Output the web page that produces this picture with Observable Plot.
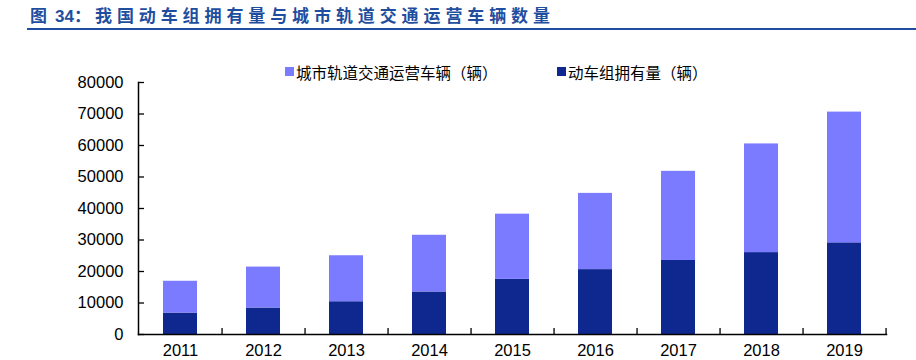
<!DOCTYPE html>
<html>
<head>
<meta charset="utf-8">
<script src="https://cdn.jsdelivr.net/npm/d3@7"></script>
<script src="https://cdn.jsdelivr.net/npm/@observablehq/plot@0.6"></script>
<style>
  html, body { margin: 0; padding: 0; background: #fff; }
  #wrap { position: relative; width: 916px; height: 360px; overflow: hidden; }
  #chart { position: absolute; left: 0; top: 0; }
  .title { position: absolute; top: 5px; line-height: 20px; font-size: 17px; font-weight: bold; color: #1F4E9E; font-family: "Noto Sans CJK SC", sans-serif; white-space: nowrap; }
  .num { font-family: "Liberation Sans", Arial, sans-serif; }
  #rule { position: absolute; left: 27px; right: 0; top: 28px; height: 2px; background: #1F4E9E; }
  .leg { position: absolute; top: 62px; line-height: 20px; font-size: 15.5px; color: #000; font-family: "Noto Sans CJK SC", sans-serif; white-space: nowrap; }
  .sw { position: absolute; width: 9px; height: 9px; top: 67px; }
</style>
</head>
<body>
<div id="wrap">
  <div id="chart"></div>
  <div class="title" style="left:30px">图</div>
  <div class="title num" style="left:55px">34<span style="font-family:'Noto Sans CJK SC'">：</span></div>
  <div class="title" id="titleRest" style="left:95px; letter-spacing:4.9px"></div>
  <div id="rule"></div>
  <div id="legend"></div>
</div>
<script>
const years = ["2011", "2012", "2013", "2014", "2015", "2016", "2017", "2018", "2019"];
const emuCars = [6800, 8400, 10400, 13500, 17500, 20600, 23500, 26000, 29100];
const metroCars = [10100, 13000, 14600, 18000, 20700, 24200, 28300, 34500, 41500];
const seriesNames = ["动车组拥有量（辆）", "城市轨道交通运营车辆（辆）"];
const seriesColors = ["#0F2890", "#7B7BFF"];
const yTicks = [0, 10000, 20000, 30000, 40000, 50000, 60000, 70000, 80000];
const titleText = "我国动车组拥有量与城市轨道交通运营车辆数量";

document.getElementById("titleRest").textContent = titleText;

// legend (order as in reference: metro first, then EMU)
const legend = document.getElementById("legend");
const legendItems = [
  {name: seriesNames[1], color: seriesColors[1], sx: 285, tx: 296},
  {name: seriesNames[0], color: seriesColors[0], sx: 557, tx: 568}
];
for (const it of legendItems) {
  const sw = document.createElement("div");
  sw.className = "sw";
  sw.style.left = it.sx + "px";
  sw.style.background = it.color;
  legend.appendChild(sw);
  const t = document.createElement("div");
  t.className = "leg";
  t.style.left = it.tx + "px";
  t.textContent = it.name;
  legend.appendChild(t);
}

const data = [];
years.forEach((y, i) => {
  data.push({year: y, series: seriesNames[0], value: emuCars[i]});
  data.push({year: y, series: seriesNames[1], value: metroCars[i]});
});

const W = 916, H = 360, mL = 138, mR = 30, mT = 82, mB = 26;
const plotW = W - mL - mR, plotH = H - mT - mB;
const pInner = 0.59;
const step = plotW / years.length;

const chart = Plot.plot({
  width: W,
  height: H,
  marginLeft: mL,
  marginRight: mR,
  marginTop: mT,
  marginBottom: mB,
  style: {fontFamily: "'Liberation Sans', Arial, sans-serif", fontSize: "16.5px", color: "#000", background: "transparent", overflow: "visible"},
  x: {domain: years, paddingInner: pInner, paddingOuter: pInner / 2, label: null},
  y: {domain: [0, 80000], label: null},
  color: {domain: seriesNames, range: seriesColors},
  marks: [
    Plot.barY(data, {x: "year", y: "value", fill: "series", order: seriesNames}),
    Plot.axisY(yTicks, {tickSize: 0, tickPadding: 15, tickFormat: d => String(d), fontSize: 16.5, fill: "#000"}),
    Plot.axisX({tickSize: 0, tickPadding: 10, fontSize: 16.5, fill: "#000"}),
    Plot.ruleY(yTicks, {y: d => d, insetRight: plotW - 6, stroke: "#000", strokeWidth: 1.3}),
    Plot.ruleX(years, {x: d => d, dx: step / 2, insetTop: plotH - 6, stroke: "#000", strokeWidth: 1.3}),
    Plot.frame({anchor: "left", stroke: "#000", strokeWidth: 1.5}),
    Plot.frame({anchor: "bottom", stroke: "#000", strokeWidth: 1.5})
  ]
});
document.getElementById("chart").appendChild(chart);
</script>
</body>
</html>
